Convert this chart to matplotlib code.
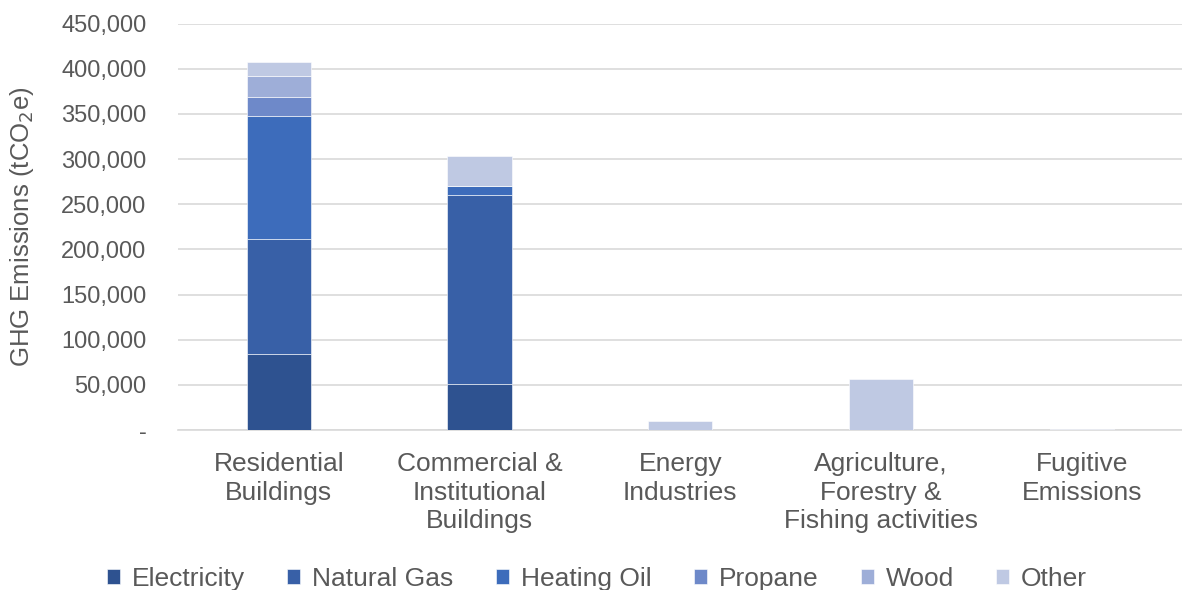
import matplotlib

matplotlib.use("Agg")
import matplotlib.pyplot as plt
from matplotlib.ticker import FuncFormatter
import numpy as np

plt.rcParams["font.family"] = ["Liberation Sans", "DejaVu Sans"]

categories = [
    "Residential\nBuildings",
    "Commercial &\nInstitutional\nBuildings",
    "Energy\nIndustries",
    "Agriculture,\nForestry &\nFishing activities",
    "Fugitive\nEmissions",
]
series_names = ["Electricity", "Natural Gas", "Heating Oil", "Propane", "Wood", "Other"]
electricity = [84000, 50600, 0, 0, 0]
natural_gas = [127500, 209500, 0, 0, 0]
heating_oil = [136700, 9600, 0, 0, 0]
propane = [21000, 0, 0, 0, 0]
wood = [23300, 0, 0, 0, 0]
other = [14800, 34000, 9600, 56200, 1400]
colors = ["#2E5290", "#3860A7", "#3D6CBB", "#6E89C9", "#9EAED8", "#BFC9E3"]

series = [electricity, natural_gas, heating_oil, propane, wood, other]

fig = plt.figure(figsize=(11.82, 5.9), dpi=100)
ax = fig.add_axes([0.151, 0.271, 0.849, 0.689])

x = np.arange(len(categories))
bottom = np.zeros(len(categories))
for name, vals, col in zip(series_names, series, colors):
    ax.bar(x, vals, width=0.32, bottom=bottom, color=col, label=name,
           edgecolor="white", linewidth=0.4, zorder=3)
    bottom += np.array(vals)

text_color = "#595959"
ax.set_xlim(-0.5, len(categories) - 0.5)
ax.set_ylim(0, 450000)
ax.set_yticks(np.arange(0, 450001, 50000))
ax.yaxis.set_major_formatter(FuncFormatter(lambda v, p: "-" if v == 0 else f"{int(v):,}"))
ax.set_xticks(x)
ax.set_xticklabels(categories, linespacing=1.22)
ax.tick_params(axis="x", labelsize=19, colors=text_color, length=0, pad=16)
ax.tick_params(axis="y", labelsize=17, colors=text_color, length=0, pad=23)
ax.grid(axis="y", color="#D9D9D9", linewidth=1.2, zorder=0)
for spine in ("top", "right", "left"):
    ax.spines[spine].set_visible(False)
ax.spines["bottom"].set_color("#D9D9D9")
ax.spines["bottom"].set_linewidth(1.2)
ax.set_ylabel("GHG Emissions (tCO$_2$e)", fontsize=18.5, color=text_color)
ax.yaxis.set_label_coords(-0.142, 0.5)

leg = fig.legend(loc="lower center", bbox_to_anchor=(0.505, -0.042), ncol=6, frameon=False,
                 fontsize=19, handlelength=0.5, handleheight=0.5, columnspacing=1.6,
                 handletextpad=0.45)
for t in leg.get_texts():
    t.set_color(text_color)

fig.savefig("out.png", dpi=100)
